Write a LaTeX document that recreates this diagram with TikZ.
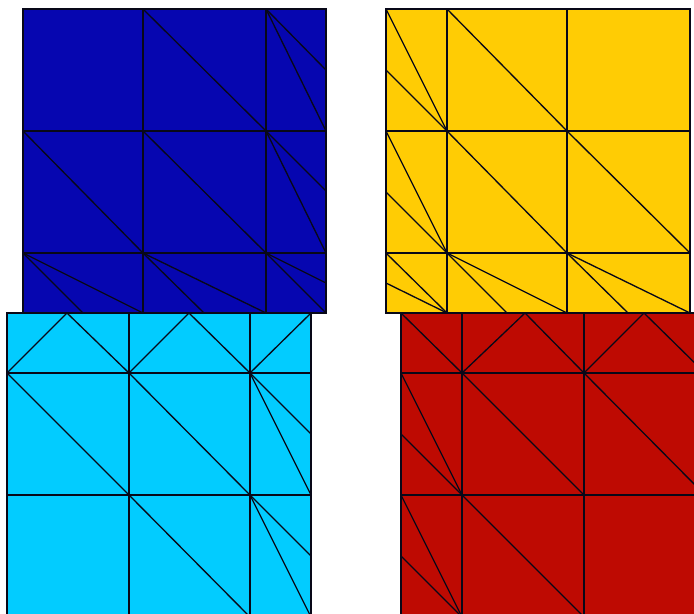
\documentclass[tikz,border=0pt]{standalone}
\usepackage{xcolor}
\definecolor{panel_blue}{RGB}{6, 6, 176}
\definecolor{panel_yellow}{RGB}{255, 204, 4}
\definecolor{panel_cyan}{RGB}{2, 204, 255}
\definecolor{panel_red}{RGB}{190, 10, 2}
\definecolor{mesh_line}{RGB}{8, 8, 24}
\tikzset{
  panel/.style={draw=mesh_line, line width=0.75pt},
  mesh/.style={draw=mesh_line, line width=0.75pt}
}

\begin{document}
\begin{tikzpicture}[x=0.02cm, y=-0.02cm]

      \useasboundingbox (0,0) rectangle (694,613);
      \clip (0,0) rectangle (694,613);

      % 1. Abajo izquierda (cyan)
      \filldraw[panel, fill=panel_cyan] (7,313) rectangle (311,617);
      \draw[mesh] (129,313) -- (129,617);
      \draw[mesh] (250,313) -- (250,617);
      \draw[mesh] (7,373) -- (311,373);
      \draw[mesh] (7,495) -- (311,495);
      \draw[mesh] (7,373) -- (67,313) -- (129,373) -- (189,313) -- (250,373) -- (311,313);
      \draw[mesh] (7,373) -- (129,495);
      \draw[mesh] (129,373) -- (250,495);
      \draw[mesh] (250,373) -- (311,495);
      \draw[mesh] (250,373) -- (311,434);
      \draw[mesh] (129,495) -- (250,617);
      \draw[mesh] (250,495) -- (311,617);
      \draw[mesh] (250,495) -- (311,556);

      % 2. Abajo derecha (rojo)
      \filldraw[panel, fill=panel_red] (401,313) rectangle (705,617);
      \draw[mesh] (462,313) -- (462,617);
      \draw[mesh] (584,313) -- (584,617);
      \draw[mesh] (401,373) -- (705,373);
      \draw[mesh] (401,495) -- (705,495);
      \draw[mesh] (401,313) -- (462,373) -- (525,313) -- (584,373) -- (644,313) -- (705,373);
      \draw[mesh] (401,373) -- (462,495);
      \draw[mesh] (401,434) -- (462,495);
      \draw[mesh] (462,373) -- (584,495);
      \draw[mesh] (584,373) -- (705,495);
      \draw[mesh] (401,495) -- (462,617);
      \draw[mesh] (401,556) -- (462,617);
      \draw[mesh] (462,495) -- (584,617);

      % 3. Arriba izquierda (azul)
      \filldraw[panel, fill=panel_blue] (23,9) rectangle (326,313);
      \draw[mesh] (143,9) -- (143,313);
      \draw[mesh] (266,9) -- (266,313);
      \draw[mesh] (23,131) -- (326,131);
      \draw[mesh] (23,253) -- (326,253);
      \draw[mesh] (143,9) -- (266,131);
      \draw[mesh] (266,9) -- (326,131);
      \draw[mesh] (266,9) -- (326,70);
      \draw[mesh] (23,131) -- (143,253);
      \draw[mesh] (143,131) -- (266,253);
      \draw[mesh] (266,131) -- (326,253);
      \draw[mesh] (266,131) -- (326,191);
      \draw[mesh] (23,253) -- (143,313);
      \draw[mesh] (23,253) -- (83,313);
      \draw[mesh] (143,253) -- (266,313);
      \draw[mesh] (143,253) -- (204,313);
      \draw[mesh] (266,253) -- (326,313);
      \draw[mesh] (266,253) -- (326,283);

      % 4. Arriba derecha (amarillo)
      \filldraw[panel, fill=panel_yellow] (386,9) rectangle (690,313);
      \draw[mesh] (447,9) -- (447,313);
      \draw[mesh] (567,9) -- (567,313);
      \draw[mesh] (386,131) -- (690,131);
      \draw[mesh] (386,253) -- (690,253);
      \draw[mesh] (386,9) -- (447,131);
      \draw[mesh] (386,70) -- (447,131);
      \draw[mesh] (447,9) -- (567,131);
      \draw[mesh] (386,131) -- (447,253);
      \draw[mesh] (386,192) -- (447,253);
      \draw[mesh] (447,131) -- (567,253);
      \draw[mesh] (567,131) -- (690,253);
      \draw[mesh] (386,253) -- (447,313);
      \draw[mesh] (386,283) -- (447,313);
      \draw[mesh] (447,253) -- (567,313);
      \draw[mesh] (447,253) -- (507,313);
      \draw[mesh] (567,253) -- (690,313);
      \draw[mesh] (567,253) -- (628,313);

\end{tikzpicture}
\end{document}
